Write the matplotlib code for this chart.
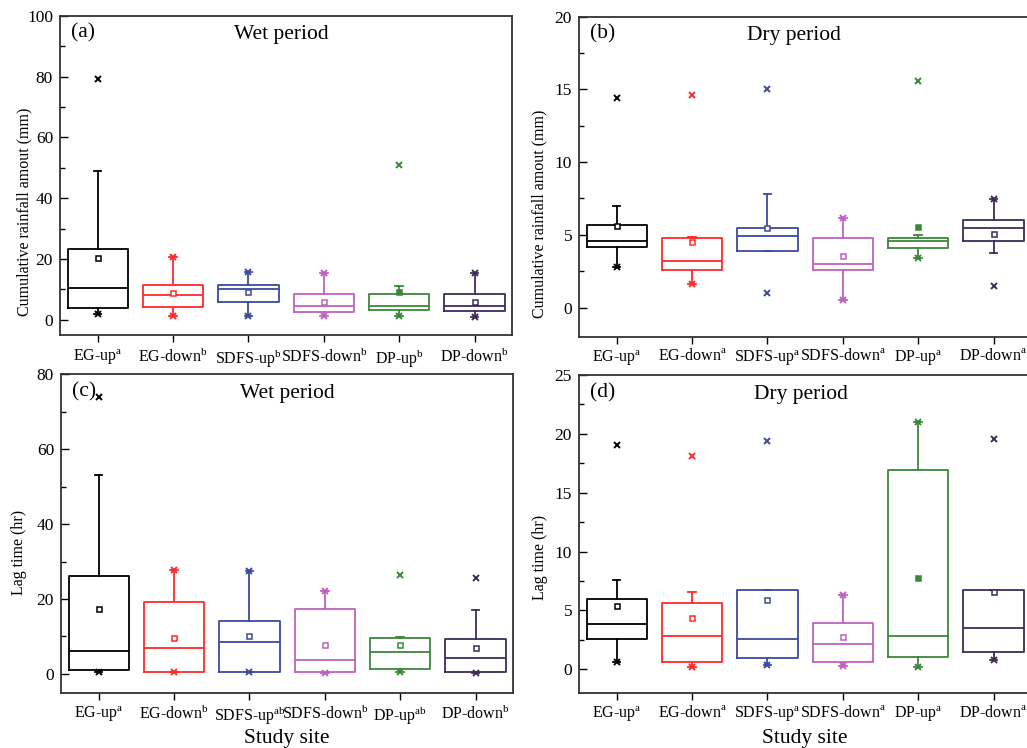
import matplotlib
matplotlib.use('Agg')
import matplotlib.pyplot as plt
from matplotlib.ticker import MultipleLocator

plt.rcParams['font.family'] = ['Liberation Serif', 'DejaVu Serif']
plt.rcParams['mathtext.fontset'] = 'custom'
plt.rcParams['mathtext.rm'] = 'Liberation Serif'

sites = ['EG-up', 'EG-down', 'SDFS-up', 'SDFS-down', 'DP-up', 'DP-down']
colors = ['#000000', '#ff2a2a', '#3a4aa0', '#c060c0', '#3a873a', '#3e2b58']

# (a) cumulative rainfall, wet period
a_q1 = [3.9, 4.2, 6.0, 2.6, 3.3, 2.8]
a_med = [10.3, 8.2, 10.1, 4.6, 4.6, 4.6]
a_q3 = [23.4, 11.6, 11.6, 8.4, 8.6, 8.4]
a_lo = [1.9, 1.1, 1.1, 1.1, 1.2, 0.9]
a_hi = [48.9, 20.6, 15.8, 15.4, 11.2, 15.4]
a_mean = [20.3, 8.7, 9.3, 5.9, 9.3, 5.8]
a_min = [1.9, 1.1, 1.1, 1.1, 1.2, 0.9]
a_max = [79.3, 20.6, 15.8, 15.4, 50.9, 15.4]
a_sup = ['a', 'b', 'b', 'b', 'b', 'b']

# (b) cumulative rainfall, dry period
b_q1 = [4.17, 2.58, 3.9, 2.58, 4.08, 4.59]
b_med = [4.59, 3.18, 4.91, 2.97, 4.59, 5.49]
b_q3 = [5.65, 4.77, 5.47, 4.77, 4.77, 5.99]
b_lo = [2.79, 1.59, 3.9, 0.55, 3.39, 3.78]
b_hi = [6.99, 4.84, 7.79, 6.18, 4.98, 7.49]
b_mean = [5.6, 4.5, 5.47, 3.53, 5.56, 5.09]
b_min = [2.79, 1.59, 0.97, 0.55, 3.39, 1.47]
b_max = [14.4, 14.6, 15.0, 6.18, 15.6, 7.49]
b_sup = ['a', 'a', 'a', 'a', 'a', 'a']

# (c) lag time, wet period
c_q1 = [1.15, 0.5, 0.5, 0.5, 1.3, 0.5]
c_med = [6.2, 6.8, 8.5, 3.6, 5.9, 4.3]
c_q3 = [26.2, 19.1, 14.2, 17.2, 9.6, 9.3]
c_lo = [0.4, 0.4, 0.4, 0.3, 0.4, 0.3]
c_hi = [53.1, 27.7, 27.6, 22.1, 9.85, 17.1]
c_mean = [17.4, 9.7, 10.2, 7.7, 7.7, 6.8]
c_min = [0.4, 0.4, 0.4, 0.3, 0.4, 0.3]
c_max = [73.9, 27.7, 27.6, 22.1, 26.4, 25.5]
c_sup = ['a', 'b', 'ab', 'b', 'ab', 'b']

# (d) lag time, dry period
d_q1 = [2.6, 0.65, 0.93, 0.65, 1.04, 1.5]
d_med = [3.85, 2.83, 2.6, 2.12, 2.83, 3.53]
d_q3 = [5.94, 5.65, 6.7, 3.93, 16.9, 6.7]
d_lo = [0.59, 0.2, 0.36, 0.28, 0.2, 0.82]
d_hi = [7.58, 6.54, 6.7, 6.33, 21.05, 6.7]
d_mean = [5.4, 4.38, 5.9, 2.74, 7.78, 6.54]
d_min = [0.59, 0.2, 0.36, 0.28, 0.2, 0.82]
d_max = [19.04, 18.1, 19.4, 6.33, 21.05, 19.6]
d_sup = ['a', 'a', 'a', 'a', 'a', 'a']


def draw_panel(ax, q1, med, q3, lo, hi, mean, mn, mx, sup, filled_mean=True):
    pos = list(range(1, len(sites) + 1))
    stats = []
    for i in range(len(sites)):
        stats.append(dict(q1=q1[i], med=med[i], q3=q3[i], whislo=lo[i],
                          whishi=hi[i], mean=mean[i], fliers=[]))
    art = ax.bxp(stats, positions=pos, widths=0.8, capwidths=0.1,
                 showmeans=True, showfliers=False,
                 boxprops=dict(linewidth=1.3),
                 medianprops=dict(linewidth=1.3),
                 whiskerprops=dict(linewidth=1.3),
                 capprops=dict(linewidth=1.3),
                 meanprops=dict(marker='s', markersize=3.6,
                                markerfacecolor='white', markeredgewidth=1.1))
    for i, c in enumerate(colors):
        art['boxes'][i].set_color(c)
        art['medians'][i].set_color(c)
        for k in (2 * i, 2 * i + 1):
            art['whiskers'][k].set_color(c)
            art['caps'][k].set_color(c)
        art['means'][i].set_markeredgecolor(c)
        ax.plot([pos[i], pos[i]], [mn[i], mx[i]], linestyle='none',
                marker='x', markersize=4, markeredgewidth=1.4, color=c)
    # DP-up mean drawn as a filled square
    if filled_mean:
        art['means'][4].set_markerfacecolor(colors[4])
    ax.set_xlim(0.5, 6.5)
    ax.set_xticks(pos)
    ax.set_xticklabels([s + r'$^{\mathrm{%s}}$' % t for s, t in zip(sites, sup)],
                       fontsize=11.5)
    ax.tick_params(axis='x', direction='out', length=5, width=1, top=False)
    ax.tick_params(axis='y', which='major', direction='in', length=6, width=1,
                   labelsize=12.5, pad=5, right=False)
    ax.tick_params(axis='y', which='minor', direction='in', length=3.5, width=1,
                   right=False)
    for sp in ax.spines.values():
        sp.set_linewidth(1.3)
        sp.set_color('#333333')


fig = plt.figure(figsize=(10.27, 7.48), dpi=100)
ax_a = fig.add_axes([0.0584, 0.5521, 0.4404, 0.4269])
ax_b = fig.add_axes([0.5638, 0.5499, 0.4404, 0.4278])
ax_c = fig.add_axes([0.0594, 0.0739, 0.4404, 0.4260])
ax_d = fig.add_axes([0.5638, 0.0739, 0.4404, 0.4247])

draw_panel(ax_a, a_q1, a_med, a_q3, a_lo, a_hi, a_mean, a_min, a_max, a_sup)
draw_panel(ax_b, b_q1, b_med, b_q3, b_lo, b_hi, b_mean, b_min, b_max, b_sup)
draw_panel(ax_c, c_q1, c_med, c_q3, c_lo, c_hi, c_mean, c_min, c_max, c_sup,
           filled_mean=False)
draw_panel(ax_d, d_q1, d_med, d_q3, d_lo, d_hi, d_mean, d_min, d_max, d_sup)

ax_a.set_ylim(-5, 100)
ax_a.yaxis.set_major_locator(MultipleLocator(20))
ax_a.yaxis.set_minor_locator(MultipleLocator(10))
ax_b.set_ylim(-2, 20)
ax_b.yaxis.set_major_locator(MultipleLocator(5))
ax_b.yaxis.set_minor_locator(MultipleLocator(2.5))
ax_c.set_ylim(-5, 80)
ax_c.yaxis.set_major_locator(MultipleLocator(20))
ax_c.yaxis.set_minor_locator(MultipleLocator(10))
ax_d.set_ylim(-2, 25)
ax_d.yaxis.set_major_locator(MultipleLocator(5))
ax_d.yaxis.set_minor_locator(MultipleLocator(2.5))

ax_a.set_ylabel('Cumulative rainfall amout (mm)', fontsize=11.5)
ax_b.set_ylabel('Cumulative rainfall amout (mm)', fontsize=11.5)
ax_c.set_ylabel('Lag time (hr)', fontsize=11.5)
ax_d.set_ylabel('Lag time (hr)', fontsize=11.5)
ax_a.yaxis.set_label_coords(-0.062, 0.385)
ax_b.yaxis.set_label_coords(-0.069, 0.385)
ax_c.yaxis.set_label_coords(-0.075, 0.44)
ax_d.yaxis.set_label_coords(-0.069, 0.427)

ax_c.set_xlabel('Study site', fontsize=15.5)
ax_d.set_xlabel('Study site', fontsize=15.5)
ax_c.xaxis.set_label_coords(0.5, -0.115)
ax_d.xaxis.set_label_coords(0.5, -0.115)

for ax, tag, title, tx in [(ax_a, '(a)', 'Wet period', 0.49),
                           (ax_b, '(b)', 'Dry period', 0.475),
                           (ax_c, '(c)', 'Wet period', 0.5),
                           (ax_d, '(d)', 'Dry period', 0.49)]:
    ax.text(0.025, 0.945, tag, transform=ax.transAxes, fontsize=15.5,
            ha='left', va='center')
    ax.text(tx, 0.94, title, transform=ax.transAxes, fontsize=15.5,
            ha='center', va='center')

fig.savefig('out.png', dpi=100)
